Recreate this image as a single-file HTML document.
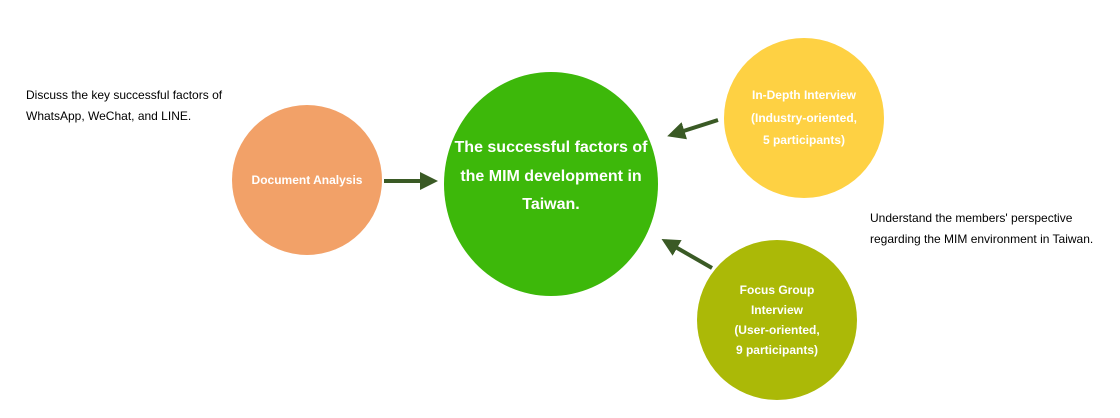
<!DOCTYPE html>
<html><head><meta charset="utf-8"><style>
body{margin:0;width:1120px;height:418px;background:#fff;overflow:hidden;position:relative;font-family:"Liberation Sans","Noto Sans CJK TC",sans-serif}
.c{position:absolute;border-radius:50%;display:flex;align-items:center;justify-content:center;text-align:center;color:#fff;font-weight:bold}
.t{position:absolute;font-size:12px;line-height:21px;color:#000}
</style></head><body>
<div class="c" style="left:232px;top:105px;width:150px;height:150px;background:#F2A168;font-size:12px">Document Analysis</div>
<div class="c" style="left:444px;top:72px;width:214px;height:224px;background:#3DB80A;font-size:16px;line-height:28.5px"><div style="margin-top:-14px">The successful factors of<br>the MIM development in<br>Taiwan.</div></div>
<div class="c" style="left:724px;top:38px;width:160px;height:160px;background:#FED143;font-size:12px;line-height:22.5px">In-Depth Interview<br>(Industry-oriented,<br>5 participants)</div>
<div class="c" style="left:697px;top:240px;width:160px;height:160px;background:#ABB907;font-size:12px;line-height:20px">Focus Group<br>Interview<br>(User-oriented,<br>9 participants)</div>
<div class="t" style="left:26px;top:85px">Discuss the key successful factors of<br>WhatsApp, WeChat, and LINE.</div>
<div class="t" style="left:870px;top:208px">Understand the members' perspective<br>regarding the MIM environment in Taiwan.</div>
<svg width="1120" height="418" style="position:absolute;left:0;top:0">
<defs><marker id="a" markerWidth="4.5" markerHeight="4.5" refX="3.5" refY="2.25" orient="auto"><path d="M0,0L4.5,2.25L0,4.5z" fill="#3A5A25"/></marker></defs>
<g stroke="#3A5A25" stroke-width="4" marker-end="url(#a)">
<line x1="384" y1="181" x2="434" y2="181"/>
<line x1="718" y1="120" x2="671" y2="135"/>
<line x1="712" y1="268" x2="665" y2="241"/>
</g></svg>
</body></html>
